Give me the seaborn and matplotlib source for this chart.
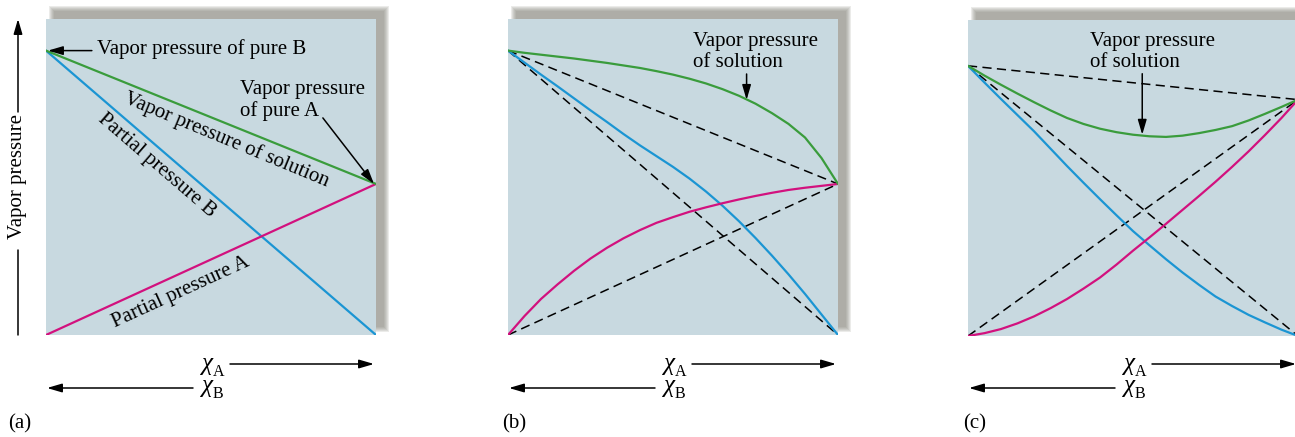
import matplotlib.pyplot as plt
from matplotlib.patches import Rectangle, FancyArrowPatch
import seaborn as sns

# -----------------------------
# Data (mole fraction of A on x, vapor pressure on y, 0..1 of panel height)
# -----------------------------
# (a) ideal solution
a_x = [0.0, 1.0]
a_partial_A = [0.0, 0.478]
a_partial_B = [0.9, 0.0]
a_total = [0.9, 0.478]

# (b) positive deviation
b_x = [0.0, 0.05, 0.1, 0.15, 0.2, 0.25, 0.3, 0.35, 0.4, 0.45, 0.5,
       0.55, 0.6, 0.65, 0.7, 0.75, 0.8, 0.85, 0.9, 0.95, 1.0]
b_partial_B = [0.9, 0.862, 0.824, 0.787, 0.749, 0.711, 0.674, 0.636, 0.6, 0.566, 0.532,
               0.495, 0.454, 0.409, 0.36, 0.307, 0.251, 0.192, 0.13, 0.065, 0.0]
b_partial_A = [0.0, 0.06, 0.114, 0.16, 0.203, 0.242, 0.276, 0.306, 0.332, 0.355, 0.373,
               0.39, 0.404, 0.417, 0.429, 0.44, 0.45, 0.459, 0.466, 0.472, 0.478]
b_total = [0.9, 0.893, 0.887, 0.881, 0.875, 0.868, 0.861, 0.853, 0.845, 0.835, 0.824,
           0.811, 0.796, 0.778, 0.757, 0.732, 0.702, 0.668, 0.625, 0.56, 0.478]

# (c) negative deviation
c_x = [0.0, 0.05, 0.1, 0.15, 0.2, 0.25, 0.3, 0.35, 0.4, 0.45, 0.5,
       0.55, 0.6, 0.65, 0.7, 0.75, 0.8, 0.85, 0.9, 0.95, 1.0]
c_partial_B = [0.855, 0.802, 0.75, 0.699, 0.648, 0.593, 0.538, 0.485, 0.433, 0.382, 0.332,
               0.287, 0.243, 0.201, 0.162, 0.125, 0.095, 0.067, 0.043, 0.02, 0.0]
c_partial_A = [0.0, 0.009, 0.022, 0.04, 0.062, 0.088, 0.117, 0.15, 0.185, 0.226, 0.27,
               0.312, 0.355, 0.399, 0.443, 0.488, 0.535, 0.584, 0.636, 0.69, 0.748]
c_total = [0.855, 0.824, 0.795, 0.767, 0.74, 0.714, 0.69, 0.671, 0.656, 0.645, 0.637,
           0.632, 0.63, 0.634, 0.642, 0.652, 0.664, 0.682, 0.703, 0.725, 0.748]

panel_labels = ["(a)", "(b)", "(c)"]
sub_labels = ["A", "B"]

BLUE = "#1b95d3"
MAGENTA = "#d2117e"
GREEN = "#3a9c3c"
PANEL_BG = "#c8d9e0"
SHADOW = "#85837a"

# -----------------------------
# Style
# -----------------------------
sns.set_theme(style="white")
plt.rcParams['font.family'] = ['Liberation Serif', 'DejaVu Serif']
plt.rcParams['text.color'] = 'black'

W, H = 1295, 437
fig = plt.figure(figsize=(W / 100, H / 100), dpi=100)
fig.patch.set_facecolor("white")


def fx(px):
    return px / W


def fy(py):
    return 1 - py / H


def fig_arrow(x0, y0, x1, y1, head=True):
    style = '-|>,head_length=0.75,head_width=0.22' if head else '-'
    fig.add_artist(FancyArrowPatch((fx(x0), fy(y0)), (fx(x1), fy(y1)),
                                   transform=fig.transFigure, arrowstyle=style,
                                   mutation_scale=12, lw=1.1, color="black",
                                   shrinkA=0, shrinkB=0))


ARROW = dict(arrowstyle='-|>,head_length=0.75,head_width=0.22', mutation_scale=12,
             lw=1.1, color="black", shrinkA=0, shrinkB=0)

lefts = [46, 508, 968]
tops = [19, 19, 20]
pw, ph = 330, 316
label_x = [8, 502, 963]

axes = []
for left, top in zip(lefts, tops):
    # soft drop shadow up and to the right
    off = 8
    for s in range(5, -1, -1):
        fig.add_artist(Rectangle((fx(left + off - s), fy(top - off + ph + s)),
                                 (pw + 2 * s) / W, (ph + 2 * s) / H,
                                 transform=fig.transFigure, facecolor=SHADOW,
                                 edgecolor="none", alpha=0.16, zorder=-1))
    ax = fig.add_axes([fx(left), fy(top + ph), pw / W, ph / H])
    ax.set_facecolor(PANEL_BG)
    ax.set_xlim(0, 1)
    ax.set_ylim(0, 1)
    ax.set_xticks([])
    ax.set_yticks([])
    sns.despine(ax=ax, left=True, bottom=True)
    axes.append(ax)

dash = (0, (6, 3.5))

# -----------------------------
# (a)
# -----------------------------
ax = axes[0]
sns.lineplot(x=a_x, y=a_partial_B, ax=ax, color=BLUE, lw=1.6, estimator=None)
sns.lineplot(x=a_x, y=a_partial_A, ax=ax, color=MAGENTA, lw=1.6, estimator=None)
sns.lineplot(x=a_x, y=a_total, ax=ax, color=GREEN, lw=1.6, estimator=None)

ax.annotate("", xy=(0.006, a_total[0]), xytext=(0.139, a_total[0]), arrowprops=ARROW)
ax.text(0.155, 0.905, "Vapor pressure of pure B", fontsize=15, va="center", ha="left")
ax.text(0.588, 0.742, "Vapor pressure\nof pure A", fontsize=15, va="center", ha="left",
        linespacing=1.15)
ax.annotate("", xy=(0.994, a_total[-1]), xytext=(0.839, 0.687), arrowprops=ARROW)
ax.text(0.548, 0.617, "Vapor pressure of solution", fontsize=15, rotation=-22.5,
        rotation_mode="anchor", ha="center", va="center")
ax.text(0.336, 0.535, "Partial pressure B", fontsize=15, rotation=-40.8,
        rotation_mode="anchor", ha="center", va="center")
ax.text(0.409, 0.136, "Partial pressure A", fontsize=15, rotation=24.6,
        rotation_mode="anchor", ha="center", va="center")

# -----------------------------
# (b)
# -----------------------------
ax = axes[1]
ax.plot([0, 1], [b_partial_B[0], b_partial_B[-1]], color="black", lw=1.1, ls=dash)
ax.plot([0, 1], [b_partial_A[0], b_partial_A[-1]], color="black", lw=1.1, ls=dash)
ax.plot([0, 1], [b_total[0], b_total[-1]], color="black", lw=1.1, ls=dash)
sns.lineplot(x=b_x, y=b_partial_B, ax=ax, color=BLUE, lw=1.6, estimator=None)
sns.lineplot(x=b_x, y=b_partial_A, ax=ax, color=MAGENTA, lw=1.6, estimator=None)
sns.lineplot(x=b_x, y=b_total, ax=ax, color=GREEN, lw=1.6, estimator=None)
ax.text(0.56, 0.896, "Vapor pressure\nof solution", fontsize=15, va="center", ha="left",
        linespacing=1.15)
ax.annotate("", xy=(0.723, 0.744), xytext=(0.723, 0.826), arrowprops=ARROW)

# -----------------------------
# (c)
# -----------------------------
ax = axes[2]
ax.plot([0, 1], [c_partial_B[0], c_partial_B[-1]], color="black", lw=1.1, ls=dash)
ax.plot([0, 1], [c_partial_A[0], c_partial_A[-1]], color="black", lw=1.1, ls=dash)
ax.plot([0, 1], [c_total[0], c_total[-1]], color="black", lw=1.1, ls=dash)
sns.lineplot(x=c_x, y=c_partial_B, ax=ax, color=BLUE, lw=1.6, estimator=None)
sns.lineplot(x=c_x, y=c_partial_A, ax=ax, color=MAGENTA, lw=1.6, estimator=None)
sns.lineplot(x=c_x, y=c_total, ax=ax, color=GREEN, lw=1.6, estimator=None)
ax.text(0.371, 0.9, "Vapor pressure\nof solution", fontsize=15, va="center", ha="left",
        linespacing=1.15)
ax.annotate("", xy=(0.528, 0.637), xytext=(0.528, 0.83), arrowprops=ARROW)

# -----------------------------
# Axis labels drawn as arrows
# -----------------------------
fig.text(fx(18), fy(177), "Vapor pressure", fontsize=15, rotation=90, ha="center", va="center")
fig_arrow(18, 112, 18, 19)
fig_arrow(18, 250, 18, 335, head=False)

for left, lab, lx in zip(lefts, panel_labels, label_x):
    for sub, base in zip(sub_labels, [370, 392]):
        fig.text(fx(left + 167), fy(base), "χ", fontsize=18, fontstyle="italic",
                 ha="right", va="baseline")
        fig.text(fx(left + 167), fy(base + 6), sub, fontsize=11.5, ha="left", va="baseline")
    fig_arrow(left + 184, 364, left + 328, 364)
    fig_arrow(left + 147, 388, left + 1, 388)
    fig.text(fx(lx), fy(424), lab, fontsize=15, ha="left", va="center")

plt.savefig("out.png", dpi=100)
